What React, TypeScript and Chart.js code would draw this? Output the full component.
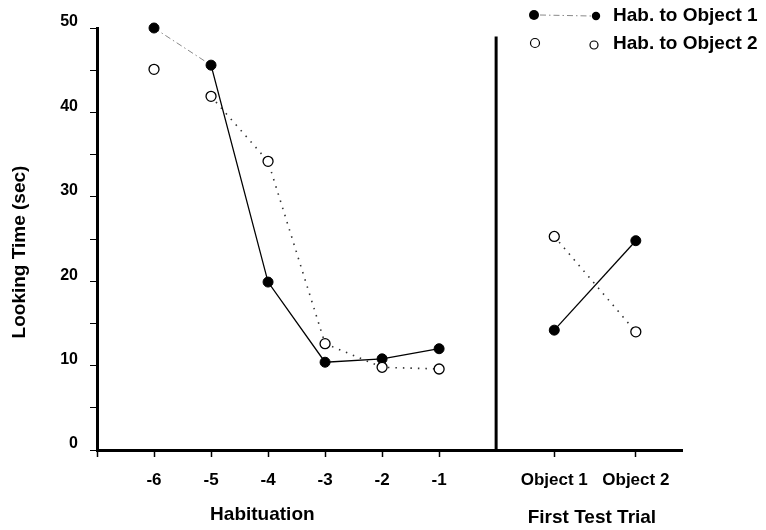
import React, { useEffect, useRef } from 'react';
import { Chart, registerables } from 'chart.js';

Chart.register(...registerables);

// ---------- data ----------
const habTrials = [-6, -5, -4, -3, -2, -1];
const habTickLabels = ['-6', '-5', '-4', '-3', '-2', '-1'];
const testCategories = ['Object 1', 'Object 2'];
const hab1Values = [50, 45.6, 19.9, 10.4, 10.8, 12.0];
const hab2Values = [45.1, 41.9, 34.2, 12.6, 9.8, 9.6];
const test1Values = [14.2, 24.8];
const test2Values = [25.3, 14.0];
const seriesNames = ['Hab. to Object 1', 'Hab. to Object 2'];
const sectionTitles = ['Habituation', 'First Test Trial'];
const yAxisTitle = 'Looking Time (sec)';
const yMin = 0;
const yMax = 50;
const yStep = 5;
const yLabelEvery = 10;

// ---------- layout (not data) ----------
const W = 766;
const H = 530;
const X_MIN = -7;
const X_MAX = 3.26;
const TEST_X = [1.02, 2.45];
const DIVIDER_X = 0;
const DIVIDER_TOP = 49;
const SECTION_TITLE_X = [-4.1, 1.68];
const FONT = '"Liberation Sans", Arial, Helvetica, sans-serif';

const annotationPlugin = {
  id: 'annotationPlugin',
  afterDraw(chart: any) {
    const ctx = chart.ctx as CanvasRenderingContext2D;
    const xs = chart.scales.x;
    ctx.save();
    ctx.fillStyle = '#000';
    // y title
    ctx.font = `bold 19px ${FONT}`;
    ctx.textAlign = 'center';
    ctx.textBaseline = 'middle';
    ctx.save();
    ctx.translate(20, 252);
    ctx.rotate(-Math.PI / 2);
    ctx.fillText(yAxisTitle, 0, 0);
    ctx.restore();
    // section titles
    ctx.fillText(sectionTitles[0], xs.getPixelForValue(SECTION_TITLE_X[0]), 515);
    ctx.fillText(sectionTitles[1], xs.getPixelForValue(SECTION_TITLE_X[1]), 518);

    // legend
    const dot = (x: number, y: number, r: number, filled: boolean) => {
      ctx.beginPath();
      ctx.arc(x, y, r, 0, Math.PI * 2);
      if (filled) {
        ctx.fillStyle = '#000';
        ctx.fill();
      } else {
        ctx.fillStyle = '#fff';
        ctx.fill();
        ctx.strokeStyle = '#000';
        ctx.lineWidth = 1.2;
        ctx.stroke();
      }
    };
    ctx.save();
    ctx.strokeStyle = '#888';
    ctx.lineWidth = 1;
    ctx.setLineDash([6, 3, 1.5, 3]);
    ctx.beginPath();
    ctx.moveTo(540, 15);
    ctx.lineTo(591, 16);
    ctx.stroke();
    ctx.restore();
    dot(534, 15, 5, true);
    dot(596, 16, 4.2, true);
    dot(535, 43, 4.5, false);
    dot(594, 45, 4, false);
    ctx.fillStyle = '#000';
    ctx.font = `bold 19px ${FONT}`;
    ctx.textAlign = 'left';
    ctx.textBaseline = 'middle';
    ctx.fillText(seriesNames[0], 613, 16);
    ctx.fillText(seriesNames[1], 613, 44);
    ctx.restore();
  },
};

function xTickLabel(value: number): string {
  const hi = habTrials.findIndex((v) => Math.abs(v - value) < 1e-6);
  if (hi >= 0) return habTickLabels[hi];
  const ti = TEST_X.findIndex((v) => Math.abs(v - value) < 1e-6);
  if (ti >= 0) return testCategories[ti];
  return '';
}

export default function App() {
  const ref = useRef<HTMLCanvasElement | null>(null);
  useEffect(() => {
    if (!ref.current) return;
    const filledPoint = {
      pointRadius: 5,
      pointBackgroundColor: '#000',
      pointBorderColor: '#000',
      pointBorderWidth: 1,
    };
    const openPoint = {
      pointRadius: 5,
      pointBackgroundColor: '#fff',
      pointBorderColor: '#000',
      pointBorderWidth: 1.3,
    };
    const chart = new Chart(ref.current, {
      type: 'line',
      data: {
        datasets: [
          {
            label: seriesNames[1],
            data: habTrials.map((x, i) => ({ x, y: hab2Values[i] })),
            borderColor: '#333',
            borderWidth: 1.6,
            borderDash: [1.5, 6],
            ...openPoint,
            order: 0,
            clip: false,
            segment: {
              borderColor: (c: any) => (c.p0DataIndex === 0 ? 'rgba(0,0,0,0)' : '#333'),
            },
          },
          {
            label: seriesNames[1] + ' test',
            data: TEST_X.map((x, i) => ({ x, y: test2Values[i] })),
            borderColor: '#333',
            borderWidth: 1.6,
            borderDash: [1.5, 6],
            ...openPoint,
            order: 0,
            clip: false,
          },
          {
            label: seriesNames[0],
            data: habTrials.map((x, i) => ({ x, y: hab1Values[i] })),
            borderColor: '#000',
            borderWidth: 1.3,
            ...filledPoint,
            order: 1,
            clip: false,
            segment: {
              borderColor: (c: any) => (c.p0DataIndex === 0 ? '#888' : '#000'),
              borderDash: (c: any) => (c.p0DataIndex === 0 ? [6, 3, 1.5, 3] : []),
              borderWidth: (c: any) => (c.p0DataIndex === 0 ? 1 : 1.3),
            },
          },
          {
            label: seriesNames[0] + ' test',
            data: TEST_X.map((x, i) => ({ x, y: test1Values[i] })),
            borderColor: '#000',
            borderWidth: 1.3,
            ...filledPoint,
            order: 1,
            clip: false,
          },
          {
            label: 'divider',
            data: [
              { x: DIVIDER_X, y: yMin },
              { x: DIVIDER_X, y: DIVIDER_TOP },
            ],
            borderColor: '#000',
            borderWidth: 3,
            pointRadius: 0,
            order: 2,
          },
        ],
      },
      options: {
        responsive: false,
        animation: false,
        devicePixelRatio: 1,
        layout: { padding: { top: 28, right: 84, left: 0, bottom: 0 } },
        plugins: {
          legend: { display: false },
          tooltip: { enabled: false },
          title: { display: false },
        },
        scales: {
          x: {
            type: 'linear',
            min: X_MIN,
            max: X_MAX,
            afterBuildTicks: (s: any) => {
              s.ticks = [X_MIN, ...habTrials, ...TEST_X].map((v) => ({ value: v }));
            },
            afterFit: (s: any) => {
              s.height = 80;
            },
            ticks: {
              autoSkip: false,
              maxRotation: 0,
              minRotation: 0,
              padding: 13,
              color: '#000',
              font: { family: FONT, size: 17, weight: 'bold' },
              callback: (v: any) => xTickLabel(Number(v)),
            },
            grid: {
              drawOnChartArea: false,
              drawTicks: true,
              tickLength: 7,
              tickWidth: 1.5,
              tickColor: '#000',
            },
            border: { display: true, width: 3, color: '#000' },
          },
          y: {
            type: 'linear',
            min: yMin,
            max: yMax,
            afterFit: (s: any) => {
              s.width = 97;
            },
            ticks: {
              stepSize: yStep,
              padding: 12,
              labelOffset: -6,
              color: '#000',
              font: { family: FONT, size: 16, weight: 'bold' },
              callback: (v: any) => (Number(v) % yLabelEvery === 0 ? String(v) : ''),
            },
            grid: {
              drawOnChartArea: false,
              drawTicks: true,
              tickLength: 7,
              tickWidth: 1,
              tickColor: '#000',
            },
            border: { display: true, width: 3, color: '#000' },
          },
        },
      },
      plugins: [annotationPlugin],
    } as any);
    return () => chart.destroy();
  }, []);

  return (
    <div style={{ position: 'absolute', left: 0, top: 0, width: W, height: H, background: '#fff' }}>
      <canvas ref={ref} width={W} height={H} style={{ display: 'block' }} />
    </div>
  );
}
